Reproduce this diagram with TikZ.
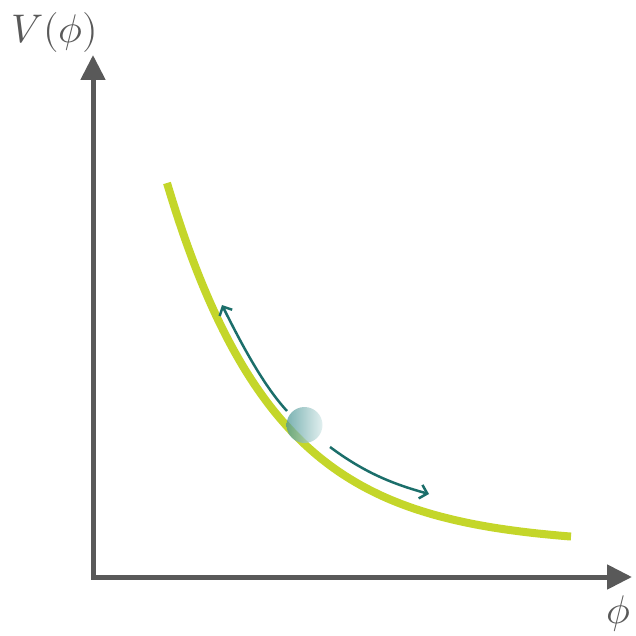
\documentclass[tikz,border=0pt]{standalone}
\usepackage{unicode-math}
\usetikzlibrary{arrows.meta}
\definecolor{axisgray}{HTML}{595959}
\definecolor{potgreen}{HTML}{C4D62A}
\definecolor{kickteal}{HTML}{1B6E6A}
\definecolor{balldark}{HTML}{4F9898}
\definecolor{balllight}{HTML}{D8EAEA}
\begin{document}
\begin{tikzpicture}[x=1pt, y=-1pt,
    axis/.style={draw=axisgray, line width=5pt, {Triangle[length=25pt,width=24pt]}-{Triangle[length=25pt,width=24pt]}},
    pot/.style={draw=potgreen, line width=8pt},
    kick/.style={draw=kickteal, line width=2.5pt, -{Straight Barb[length=7pt,width=14pt]}},
    lbl/.style={text=axisgray, font=\fontsize{40}{44}\selectfont, inner sep=0pt}]
    \useasboundingbox (0,0) rectangle (635,636);
    \coordinate (vtip) at (93,55);
    \coordinate (origin) at (93,577);
    \coordinate (htip) at (632,577);
    \node[lbl] (vlabel) at (55,33) {$V(\phi)$};
    \node[lbl] (philabel) at (619,614) {$\phi$};

    % axes
    \draw[axis] (vtip) -- (origin) -- (htip);

    % potential
    \draw[pot] plot[domain=167:571, samples=80, smooth] (\x, {545-362*exp(-0.0093*(\x-167))});

    % ball
    \shade[left color=balldark, right color=balllight, fill opacity=0.75] (304.5,425) circle (18);
    \coordinate (upfrom) at (287,411);
    \coordinate (upto) at (222,305);
    \coordinate (downfrom) at (330,447);
    \coordinate (downto) at (429,494);
    \draw[kick] (upfrom) .. controls (262,384) and (239,339) .. (upto);
    \draw[kick] (downfrom) .. controls (365,473) and (393,484) .. (downto);
\end{tikzpicture}
\end{document}
